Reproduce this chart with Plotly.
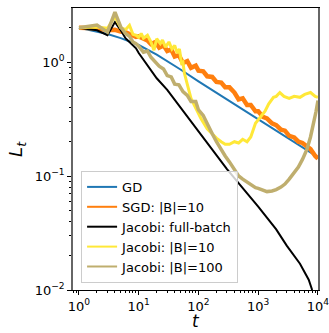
import plotly.graph_objects as go

# ---------------- data ----------------
t_gd = [1, 2, 3, 5, 10, 20, 30, 50, 100, 200, 300, 500, 1000, 2000, 3000, 5000, 10000]
L_gd = [2.0, 1.86, 1.76, 1.62, 1.41, 1.16, 1.02, 0.86, 0.676, 0.537, 0.473, 0.398,
        0.316, 0.251, 0.219, 0.184, 0.146]

t_sgd = [1, 2, 3, 4, 5, 6, 7, 8, 9, 10, 12, 14, 16, 19, 22, 26, 30, 35, 40, 47, 55, 65,
         75, 90, 100, 120, 140, 170, 200, 240, 280, 330, 400, 470, 550, 650, 750, 900,
         1000, 1200, 1400, 1700, 2000, 2400, 2800, 3300, 4000, 4700, 5500, 6500, 7500,
         9000, 10000]
L_sgd = [2.0, 1.98, 1.9, 1.92, 1.85, 1.83, 1.76, 1.72, 1.66, 1.68, 1.6, 1.55, 1.44,
         1.5, 1.34, 1.4, 1.25, 1.29, 1.12, 1.15, 0.98, 1.02, 0.89, 0.93, 0.84, 0.83,
         0.75, 0.74, 0.67, 0.66, 0.6, 0.6, 0.54, 0.47, 0.48, 0.42, 0.42, 0.37, 0.37,
         0.33, 0.32, 0.29, 0.28, 0.255, 0.25, 0.225, 0.218, 0.2, 0.195, 0.18, 0.172,
         0.15, 0.142]

t_jfull = [1, 2, 3, 4, 5, 6, 7, 8, 9, 10, 13, 20, 30, 50, 100, 200, 300, 500, 1000,
           2000, 3000, 5000, 7000, 8000, 9000]
L_jfull = [2.0, 1.9, 1.72, 2.24, 1.9, 1.62, 1.5, 1.4, 1.32, 1.2, 0.98, 0.72, 0.57, 0.40,
           0.25, 0.153, 0.115, 0.083, 0.054, 0.034, 0.0245, 0.017, 0.0123, 0.0100, 0.0085]

t_j10 = [1, 2, 3, 4, 5, 6, 7, 8, 9, 10, 11, 12, 14, 16, 18, 20, 23, 25, 28, 32, 36, 40,
         44, 48, 52, 55, 58, 65, 68, 75, 85, 95, 110, 140, 170, 200, 240, 280, 330, 400,
         470, 550, 650, 750, 900, 1000, 1100, 1300, 1500, 1800, 2000, 2300, 2700, 3300,
         4000, 5000, 6000, 7500, 9000, 10000]
L_j10 = [2.0, 2.03, 1.98, 2.5, 2.0, 1.92, 2.1, 1.75, 1.72, 1.65, 1.78, 1.62, 1.72, 1.5,
         1.27, 1.6, 1.45, 1.56, 1.35, 1.5, 1.3, 1.4, 1.2, 1.3, 0.98, 1.0, 0.8, 0.65,
         0.57, 0.48, 0.42, 0.37, 0.32, 0.26, 0.235, 0.215, 0.2, 0.19, 0.19, 0.2, 0.195,
         0.21, 0.2, 0.22, 0.29, 0.31, 0.33, 0.37, 0.43, 0.49, 0.5, 0.54, 0.5, 0.48, 0.5,
         0.49, 0.52, 0.54, 0.5, 0.49]

t_j100 = [1, 2, 3, 4, 5, 6, 7, 8, 9, 10, 12, 14, 16, 19, 22, 26, 30, 35, 40, 47, 55, 65,
          75, 90, 100, 120, 140, 170, 200, 240, 280, 330, 400, 470, 550, 650, 750, 900,
          1000, 1200, 1400, 1700, 2000, 2400, 2800, 3300, 4000, 4700, 5500, 6500, 7500,
          8500, 9300, 10000]
L_j100 = [2.0, 2.11, 1.83, 2.74, 2.03, 1.78, 1.68, 1.5, 1.45, 1.38, 1.22, 1.25, 1.1,
          1.0, 0.92, 0.87, 0.76, 0.74, 0.64, 0.63, 0.55, 0.51, 0.45, 0.45, 0.38, 0.34,
          0.285, 0.235, 0.2, 0.17, 0.15, 0.133, 0.115, 0.1, 0.094, 0.088, 0.085, 0.079,
          0.078, 0.075, 0.073, 0.074, 0.076, 0.08, 0.085, 0.094, 0.106, 0.12, 0.14, 0.17,
          0.22, 0.29, 0.37, 0.46]

names = ["GD", "SGD: |B|=10", "Jacobi: full-batch", "Jacobi: |B|=10", "Jacobi: |B|=100"]
colors = ["#1f77b4", "#ff7f0e", "#000000", "#ffe838", "#bfae6e"]
widths = [2, 4.5, 2, 3, 3.5]

x_ticks = [1, 10, 100, 1000, 10000]
x_ticktext = ["10<sup>0</sup>", "10<sup>1</sup>", "10<sup>2</sup>", "10<sup>3</sup>", "10<sup>4</sup>"]
y_ticks = [0.01, 0.1, 1]
y_ticktext = ["10<sup>\u22122</sup>", "10<sup>\u22121</sup>", "10<sup>0</sup>"]

series = [(t_gd, L_gd), (t_sgd, L_sgd), (t_jfull, L_jfull), (t_j10, L_j10), (t_j100, L_j100)]

fig = go.Figure()
for (tx, ly), nm, c, w in zip(series, names, colors, widths):
    fig.add_trace(go.Scatter(x=tx, y=ly, mode="lines", name=nm, showlegend=False,
                             line=dict(color=c, width=w)))
# legend entries with thin sample lines
for nm, c in zip(names, colors):
    fig.add_trace(go.Scatter(x=[None], y=[None], mode="lines", name=nm,
                             line=dict(color=c, width=2)))

x_minor = [m * 10 ** d for d in range(-1, 4) for m in range(2, 10)]
y_minor = [m * 10 ** d for d in range(-2, 1) for m in range(2, 10)]

font = "DejaVu Sans, Verdana, sans-serif"
fig.update_layout(
    width=329, height=333,
    margin=dict(l=73, r=11, t=8, b=43, autoexpand=False),
    paper_bgcolor="white", plot_bgcolor="white",
    font=dict(family=font, size=13, color="black"),
    showlegend=True,
    legend=dict(x=0.033, y=0.025, xanchor="left", yanchor="bottom",
                bgcolor="rgba(255,255,255,0.8)", bordercolor="#cccccc", borderwidth=1,
                font=dict(size=13), tracegroupgap=0, itemwidth=30),
    xaxis=dict(type="log", range=[-0.1, 4.0005], showgrid=False, zeroline=False,
               automargin=False,
               showline=True, linecolor="black", linewidth=1, mirror=True,
               ticks="outside", ticklen=4, tickwidth=1, tickcolor="black",
               tickmode="array", tickvals=x_ticks, ticktext=x_ticktext,
               ticklabeloverflow="allow",
               minor=dict(ticks="outside", ticklen=2, tickwidth=1, tickcolor="black",
                          tickmode="array", tickvals=x_minor, showgrid=False)),
    yaxis=dict(type="log", range=[-2, 0.474], showgrid=False, zeroline=False,
               automargin=False,
               showline=True, linecolor="#666666", linewidth=1.5, mirror=True,
               ticks="outside", ticklen=4, tickwidth=1, tickcolor="black",
               tickmode="array", tickvals=y_ticks, ticktext=y_ticktext,
               ticklabeloverflow="allow",
               minor=dict(ticks="outside", ticklen=2, tickwidth=1, tickcolor="black",
                          tickmode="array", tickvals=y_minor, showgrid=False)),
    annotations=[
        dict(text="<i>t</i>", xref="paper", yref="paper", x=0.5, y=-0.1525,
             xanchor="center", yanchor="bottom", showarrow=False, font=dict(size=17)),
        dict(text="<i>L<sub>t</sub></i>", xref="paper", yref="paper", x=-0.229, y=0.5,
             xanchor="center", yanchor="middle", showarrow=False, textangle=-90,
             font=dict(size=18)),
    ],
)

fig.write_html("out.html",
               config={"displayModeBar": False},
               post_script="document.body.style.margin='0px';"
                           "document.body.style.overflow='hidden';")
